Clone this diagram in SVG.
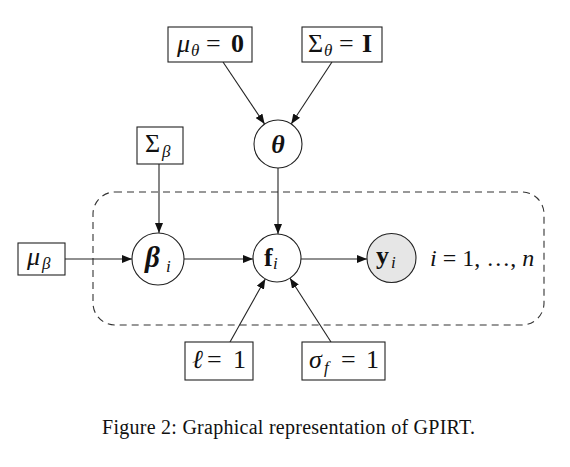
<svg xmlns="http://www.w3.org/2000/svg" width="570" height="467" viewBox="0 0 570 467">
<style>
.box{fill:#fff;stroke:#222;stroke-width:1.1}
.node{fill:#fff;stroke:#222;stroke-width:1.1}
.obs{fill:#e6e6e6;stroke:#222;stroke-width:1.1}
.edge{stroke:#222;stroke-width:1.1;fill:none;marker-end:url(#arr)}
.m{font-family:"Liberation Serif",serif;font-size:26px;fill:#111}
.i{font-style:italic}
.b{font-weight:bold}
.s{font-size:17px}
.cap{font-family:"Liberation Serif",serif;font-size:20px;fill:#111}
</style>
<defs>
<marker id="arr" viewBox="0 0 10 8" refX="10" refY="4" markerWidth="10" markerHeight="8" markerUnits="userSpaceOnUse" orient="auto">
<path d="M0,0 L10,4 L0,8 Z" fill="#111"/>
</marker>
</defs>
<g id="plate">
<rect x="93" y="192" width="451" height="133" rx="22" ry="22" fill="none" stroke="#333" stroke-width="1.1" stroke-dasharray="7,5"/>
<text class="m" x="430" y="266" style="font-size:24px"><tspan class="i">i</tspan> = 1, …, <tspan class="i">n</tspan></text>
</g>
<g id="connectors">
<line class="edge" x1="223" y1="62" x2="264.6" y2="124.1"/>
<line class="edge" x1="332" y1="62" x2="291.2" y2="124"/>
<line class="edge" x1="278" y1="168" x2="278" y2="234"/>
<line class="edge" x1="159" y1="164" x2="159" y2="233"/>
<line class="edge" x1="65" y1="259" x2="132" y2="259"/>
<line class="edge" x1="184" y1="259" x2="253" y2="259"/>
<line class="edge" x1="301" y1="259" x2="367" y2="259"/>
<line class="edge" x1="230" y1="342" x2="265.3" y2="278.9"/>
<line class="edge" x1="331" y1="342" x2="290" y2="278.2"/>
</g>
<g id="mu_theta">
<rect class="box" x="168" y="27" width="84" height="35"/>
<text class="m" y="52"><tspan class="i" x="177">μ</tspan><tspan class="i s" x="191" y="56">θ</tspan><tspan x="206" y="52">=</tspan><tspan class="b" x="231">0</tspan></text>
</g>
<g id="sigma_theta">
<rect class="box" x="302" y="27" width="80" height="35"/>
<text class="m" y="52"><tspan x="308">Σ</tspan><tspan class="i s" x="324" y="56">θ</tspan><tspan x="339" y="52">=</tspan><tspan class="b" x="362">I</tspan></text>
</g>
<g id="theta">
<circle class="node" cx="278" cy="144" r="24"/>
<text class="m i b" x="278" y="153" text-anchor="middle">θ</text>
</g>
<g id="sigma_beta">
<rect class="box" x="137" y="127" width="46" height="37"/>
<text class="m" y="152"><tspan x="145">Σ</tspan><tspan class="i s" x="162" y="157">β</tspan></text>
</g>
<g id="mu_beta">
<rect class="box" x="18" y="243" width="47" height="32"/>
<text class="m" y="265"><tspan class="i" x="27">μ</tspan><tspan class="i s" x="42" y="269">β</tspan></text>
</g>
<g id="beta_i">
<circle class="node" cx="158" cy="259" r="26"/>
<text class="m" y="267"><tspan class="i b" x="145" style="font-size:29px">β</tspan><tspan class="i s" x="166" y="272">i</tspan></text>
</g>
<g id="f_i">
<circle class="node" cx="277" cy="258" r="24"/>
<text class="m" y="266"><tspan class="b" x="264">f</tspan><tspan class="i s" x="273" y="269">i</tspan></text>
</g>
<g id="y_i">
<circle class="obs" cx="391.5" cy="258" r="24.5"/>
<text class="m" y="264"><tspan class="b" x="376">y</tspan><tspan class="i s" x="391" y="268">i</tspan></text>
</g>
<g id="ell">
<rect class="box" x="185" y="342" width="68" height="38"/>
<text class="m" y="368"><tspan class="i" x="192">ℓ</tspan><tspan x="207">=</tspan><tspan x="233">1</tspan></text>
</g>
<g id="sigma_f">
<rect class="box" x="302" y="342" width="83" height="38"/>
<text class="m" y="368"><tspan class="i" x="309">σ</tspan><tspan class="i s" x="324" y="373">f</tspan><tspan x="341" y="368">=</tspan><tspan x="366">1</tspan></text>
</g>
<text class="cap" x="102" y="434" textLength="373" lengthAdjust="spacing">Figure 2: Graphical representation of GPIRT.</text>
</svg>
